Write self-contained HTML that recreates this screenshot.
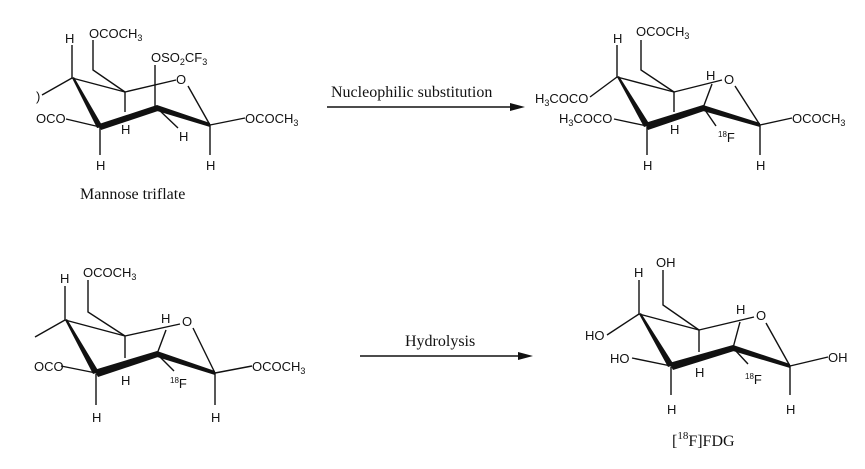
<!DOCTYPE html>
<html><head><meta charset="utf-8"><style>
body{margin:0;background:#fff}
svg{display:block}
text{font-family:"Liberation Sans",sans-serif;font-size:13px;fill:#111}
.s{font-family:"Liberation Serif",serif;font-size:16px}
line,polyline{stroke:#111;stroke-width:1.4;fill:none}
.w{fill:#111;stroke:none}
</style></head><body>
<svg width="865" height="469" viewBox="0 0 865 469">
<!-- TOP LEFT -->
<g>
<line x1="72" y1="78" x2="72" y2="45"/><text x="65" y="43">H</text>
<text x="89" y="38">OCOCH<tspan font-size="9" dy="3">3</tspan></text>
<polyline points="93,40 93,70 125,92"/>
<line x1="72" y1="78" x2="125" y2="92"/>
<line x1="125" y1="92" x2="176" y2="80"/>
<text x="176" y="84">O</text>
<line x1="188" y1="86" x2="210" y2="125"/>
<line x1="72" y1="78" x2="42" y2="95"/><text x="36" y="101">)</text>
<polygon class="w" points="72,78 74,77 103,127 97,128"/>
<polygon class="w" points="99,124 157,105 158,111 101,130"/>
<polygon class="w" points="157,105 210,123 210,127 157,111"/>
<line x1="125" y1="92" x2="125" y2="112"/><text x="121" y="134">H</text>
<text x="151" y="62">OSO<tspan font-size="9" dy="3">2</tspan><tspan dy="-3">CF</tspan><tspan font-size="9" dy="3">3</tspan></text>
<line x1="155" y1="65" x2="155" y2="108"/>
<line x1="157" y1="108" x2="178" y2="128"/><text x="179" y="141">H</text>
<text x="36" y="123">OCO</text><line x1="66" y1="119" x2="100" y2="127"/>
<line x1="100" y1="127" x2="100" y2="155"/><text x="96" y="170">H</text>
<line x1="210" y1="125" x2="210" y2="155"/><text x="206" y="170">H</text>
<line x1="210" y1="125" x2="245" y2="118"/><text x="245" y="123">OCOCH<tspan font-size="9" dy="3">3</tspan></text>
<text class="s" x="80" y="199" font-size="15">Mannose triflate</text>
</g>
<!-- arrow 1 -->
<text class="s" x="331" y="97">Nucleophilic substitution</text>
<line x1="327" y1="107" x2="515" y2="107"/>
<polygon class="w" points="525,107 510,103 510,111"/>
<!-- TOP RIGHT -->
<g>
<line x1="617" y1="77" x2="617" y2="45"/><text x="613" y="43">H</text>
<text x="636" y="36">OCOCH<tspan font-size="9" dy="3">3</tspan></text>
<polyline points="641,40 641,70 674,92"/>
<line x1="617" y1="77" x2="674" y2="92"/>
<line x1="674" y1="92" x2="722" y2="80"/>
<text x="706" y="80">H</text><text x="724" y="84">O</text>
<line x1="735" y1="86" x2="760" y2="125"/>
<line x1="712" y1="84" x2="703" y2="108"/>
<text x="535" y="103">H<tspan font-size="9" dy="3">3</tspan><tspan dy="-3">COCO</tspan></text>
<line x1="590" y1="97" x2="617" y2="77"/>
<polygon class="w" points="617,77 619,76 650,125 644,127"/>
<polygon class="w" points="645,123 703,105 704,111 648,130"/>
<polygon class="w" points="703,105 760,123 760,127 703,111"/>
<line x1="674" y1="92" x2="674" y2="112"/><text x="670" y="134">H</text>
<text x="559" y="123">H<tspan font-size="9" dy="3">3</tspan><tspan dy="-3">COCO</tspan></text>
<line x1="614" y1="119" x2="647" y2="126"/>
<line x1="705" y1="110" x2="716" y2="126"/>
<text x="718" y="142"><tspan font-size="8" dy="-5">18</tspan><tspan dy="5">F</tspan></text>
<line x1="647" y1="127" x2="647" y2="155"/><text x="643" y="170">H</text>
<line x1="760" y1="125" x2="760" y2="155"/><text x="756" y="170">H</text>
<line x1="760" y1="125" x2="792" y2="118"/><text x="792" y="123">OCOCH<tspan font-size="9" dy="3">3</tspan></text>
</g>
<!-- arrow 2 -->
<text class="s" x="405" y="346">Hydrolysis</text>
<line x1="360" y1="356" x2="523" y2="356"/>
<polygon class="w" points="533,356 518,352 518,360"/>
<!-- BOTTOM LEFT -->
<g>
<line x1="65" y1="320" x2="65" y2="286"/><text x="60" y="283">H</text>
<text x="83" y="277">OCOCH<tspan font-size="9" dy="3">3</tspan></text>
<polyline points="88,280 88,312 125,336"/>
<line x1="65" y1="320" x2="125" y2="336"/>
<line x1="125" y1="336" x2="180" y2="324"/>
<text x="161" y="323">H</text><text x="182" y="326">O</text>
<line x1="193" y1="328" x2="215" y2="373"/>
<line x1="166" y1="330" x2="157" y2="354"/>
<line x1="65" y1="320" x2="35" y2="337"/>
<polygon class="w" points="65,320 67,319 99,372 93,374"/>
<polygon class="w" points="94,370 157,351 158,357 98,377"/>
<polygon class="w" points="157,351 215,371 215,375 157,357"/>
<line x1="125" y1="336" x2="125" y2="358"/><text x="121" y="385">H</text>
<text x="34" y="371">OCO</text><line x1="61" y1="366" x2="96" y2="373"/>
<line x1="159" y1="356" x2="174" y2="371"/>
<text x="170" y="388"><tspan font-size="8" dy="-5">18</tspan><tspan dy="5">F</tspan></text>
<line x1="96" y1="374" x2="96" y2="405"/><text x="92" y="422">H</text>
<line x1="215" y1="373" x2="215" y2="405"/><text x="211" y="422">H</text>
<line x1="215" y1="373" x2="252" y2="366"/><text x="252" y="371">OCOCH<tspan font-size="9" dy="3">3</tspan></text>
</g>
<!-- BOTTOM RIGHT -->
<g>
<line x1="639" y1="314" x2="639" y2="280"/><text x="634" y="277">H</text>
<text x="656" y="267">OH</text>
<polyline points="663,270 663,305 699,330"/>
<line x1="639" y1="314" x2="699" y2="330"/>
<line x1="699" y1="330" x2="754" y2="317"/>
<text x="736" y="314">H</text><text x="756" y="320">O</text>
<line x1="766" y1="323" x2="790" y2="366"/>
<line x1="740" y1="322" x2="733" y2="348"/>
<text x="585" y="340">HO</text><line x1="607" y1="335" x2="639" y2="314"/>
<polygon class="w" points="639,314 641,313 674,365 668,367"/>
<polygon class="w" points="669,363 733,345 734,351 673,370"/>
<polygon class="w" points="733,345 790,364 790,368 733,351"/>
<line x1="699" y1="330" x2="699" y2="352"/><text x="695" y="377">H</text>
<text x="610" y="363">HO</text><line x1="632" y1="358" x2="671" y2="366"/>
<line x1="735" y1="350" x2="748" y2="364"/>
<text x="745" y="384"><tspan font-size="8" dy="-5">18</tspan><tspan dy="5">F</tspan></text>
<line x1="671" y1="367" x2="671" y2="395"/><text x="667" y="414">H</text>
<line x1="790" y1="366" x2="790" y2="395"/><text x="786" y="414">H</text>
<line x1="790" y1="366" x2="828" y2="357"/><text x="828" y="362">OH</text>
<text class="s" x="672" y="446">[<tspan font-size="11" dy="-7">18</tspan><tspan dy="7">F]FDG</tspan></text>
</g>
</svg>
</body></html>
